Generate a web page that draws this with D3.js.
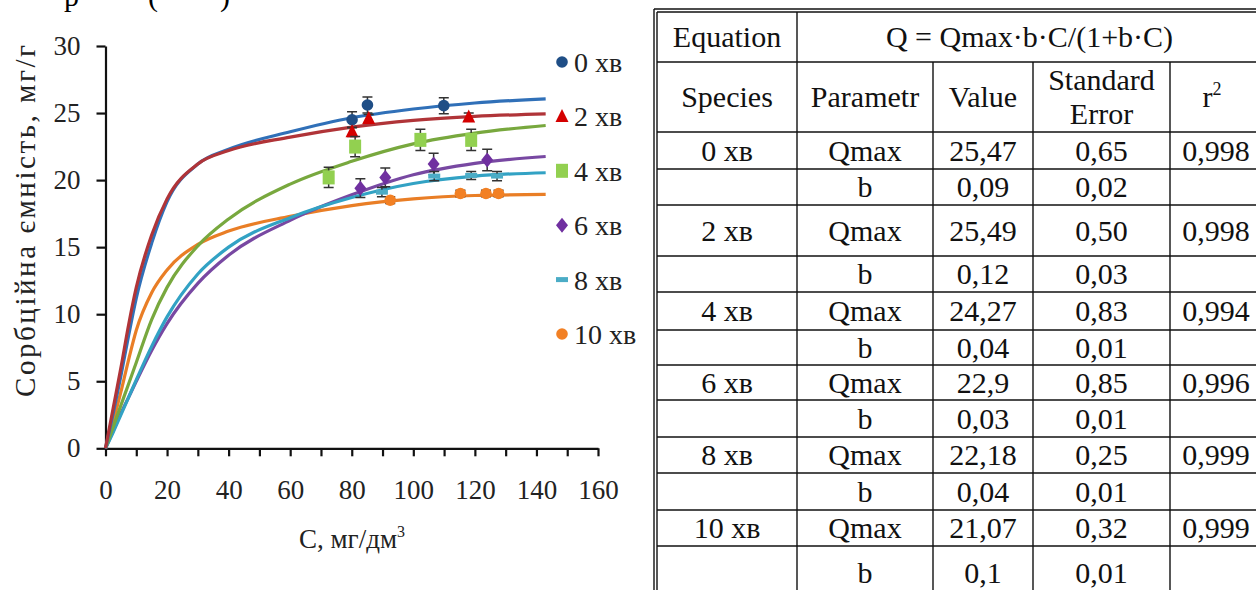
<!DOCTYPE html>
<html>
<head>
<meta charset="utf-8">
<script src="https://cdn.jsdelivr.net/npm/d3@7"></script>
<style>
  body { margin: 0; background: #fff; }
  svg text { font-family: "Liberation Serif", "Times New Roman", serif; }
</style>
</head>
<body>
<svg id="chart" width="1256" height="590"></svg>
<script>
// sorption isotherms + Langmuir parameters table

var serif = "'Liberation Serif', 'Times New Roman', serif";

var seriesNames = ["0 хв", "2 хв", "4 хв", "6 хв", "8 хв", "10 хв"];
var lineColors = ["#3070b8", "#b03438", "#78a83e", "#7848a2", "#32a2c4", "#e97e26"];
var markerColors = ["#1f4e86", "#d40000", "#92d050", "#7030a0", "#4bacc6", "#f28024"];
var markerShapes = ["circle", "triangle", "square", "diamond", "dash", "circle"];

// points along the fitted curves
var curveC = [0, 2.5, 5, 7.5, 10, 15, 20, 30, 40, 60, 80, 100, 120, 143];
var curveQ0 = [0, 2.6, 5.4, 8.4, 11.2, 15.3, 18.4, 21.2, 22.3, 23.6, 24.65, 25.3, 25.75, 26.06];
var curveQ2 = [0, 3.0, 6.0, 9.2, 12.0, 15.9, 18.6, 21.2, 22.2, 23.2, 23.95, 24.45, 24.75, 24.94];
var curveQ4 = [0, 1.6, 3.2, 4.8, 6.4, 9.6, 12.0, 15.1, 17.1, 19.7, 21.4, 22.7, 23.5, 24.07];
var curveQ6 = [0, 1.3, 2.6, 3.8, 5.0, 7.3, 9.3, 12.3, 14.4, 17.0, 18.9, 20.4, 21.25, 21.76];
var curveQ8 = [0, 1.2, 2.5, 3.8, 5.1, 7.6, 9.8, 13.0, 15.0, 17.2, 18.7, 19.75, 20.3, 20.55];
var curveQ10 = [0, 2.0, 4.2, 6.6, 8.8, 11.6, 13.3, 15.2, 16.2, 17.3, 18.1, 18.6, 18.85, 18.93];
var curveQ = [curveQ0, curveQ2, curveQ4, curveQ6, curveQ8, curveQ10];

// measured points with error bars
var pointC0 = [80.1, 85.1, 109.9],         pointQ0 = [24.5, 25.6, 25.55],        pointErr0 = [0.6, 0.6, 0.6];
var pointC2 = [80.1, 85.5, 118],           pointQ2 = [23.6, 24.6, 24.7],         pointErr2 = [0.35, 0.3, 0.3];
var pointC4 = [72.5, 81.1, 102.3, 118.8],  pointQ4 = [20.2, 22.5, 23.0, 23.0],   pointErr4 = [0.75, 0.75, 0.8, 0.8];
var pointC6 = [82.8, 90.9, 106.6, 124],    pointQ6 = [19.4, 20.2, 21.2, 21.5],   pointErr6 = [0.7, 0.7, 0.8, 0.8];
var pointC8 = [89.8, 106.8, 118.8, 127.2], pointQ8 = [19.1, 20.3, 20.35, 20.3],  pointErr8 = [0.35, 0.35, 0.3, 0.35];
var pointC10 = [92.5, 115.3, 123.6, 127.7], pointQ10 = [18.5, 19.0, 19.0, 19.0], pointErr10 = [0.25, 0.25, 0.25, 0.25];
var pointC = [pointC0, pointC2, pointC4, pointC6, pointC8, pointC10];
var pointQ = [pointQ0, pointQ2, pointQ4, pointQ6, pointQ8, pointQ10];
var pointErr = [pointErr0, pointErr2, pointErr4, pointErr6, pointErr8, pointErr10];

var xTicks = [0, 10, 20, 30, 40, 50, 60, 70, 80, 90, 100, 110, 120, 130, 140, 150, 160];
var yTicks = [0, 5, 10, 15, 20, 25, 30];

// table contents
var tableSpecies = ["0 хв", "2 хв", "4 хв", "6 хв", "8 хв", "10 хв"];
var tableQmax = ["25,47", "25,49", "24,27", "22,9", "22,18", "21,07"];
var tableQmaxErr = ["0,65", "0,50", "0,83", "0,85", "0,25", "0,32"];
var tableB = ["0,09", "0,12", "0,04", "0,03", "0,04", "0,1"];
var tableBErr = ["0,02", "0,03", "0,01", "0,01", "0,01", "0,01"];
var tableR2 = ["0,998", "0,998", "0,994", "0,996", "0,999", "0,999"];

var svg = d3.select("#chart");

var x = d3.scaleLinear().domain([0, 160]).range([105.5, 598]);
var y = d3.scaleLinear().domain([0, 30]).range([448.3, 46]);

// cut-off line of text at the very top of the page
svg.append("text").attr("x", 64).attr("y", 6).attr("font-size", 30).attr("font-family", serif).text("р");
svg.append("text").attr("x", 148).attr("y", 6).attr("font-size", 30).attr("font-family", serif).text("(");
svg.append("text").attr("x", 220).attr("y", 6).attr("font-size", 30).attr("font-family", serif).text(")");

// axes
var xAxis = svg.append("g")
    .attr("transform", "translate(0," + y(0) + ")")
    .call(d3.axisBottom(x).tickValues(xTicks).tickSize(8).tickSizeOuter(0).tickPadding(24)
        .tickFormat(function(d){ return d % 20 == 0 ? d : ""; }));
var yAxis = svg.append("g")
    .attr("transform", "translate(" + x(0) + ",0)")
    .call(d3.axisLeft(y).tickValues(yTicks).tickSize(9).tickSizeOuter(0).tickPadding(16));

[xAxis, yAxis].forEach(function(g){
    g.attr("font-family", serif);
    g.selectAll("path, line").attr("stroke", "#111").attr("stroke-width", 2.2);
    g.selectAll("text").attr("font-size", 27).attr("fill", "#222").attr("font-family", serif);
});

svg.append("text")
    .attr("x", 352).attr("y", 548)
    .attr("text-anchor", "middle")
    .attr("font-size", 27).attr("fill", "#222").attr("font-family", serif)
    .html("C, мг/дм<tspan font-size='16' dy='-11'>3</tspan>");

svg.append("text")
    .attr("transform", "translate(35,221) rotate(-90)")
    .attr("text-anchor", "middle")
    .attr("font-size", 29).attr("fill", "#222").attr("font-family", serif)
    .attr("textLength", 352).attr("lengthAdjust", "spacing")
    .text("Сорбційна ємність, мг/г");

// curves
var line = d3.line()
    .x(function(d){ return x(d[0]); })
    .y(function(d){ return y(d[1]); })
    .curve(d3.curveMonotoneX);

var drawOrder = [5, 3, 4, 2, 0, 1];
drawOrder.forEach(function(s){
    var pts = curveC.map(function(c, k){ return [c, curveQ[s][k]]; });
    svg.append("path")
        .attr("d", line(pts))
        .attr("fill", "none")
        .attr("stroke", lineColors[s])
        .attr("stroke-width", 3.2);
});

function drawMarker(g, shape, color, cx, cy){
    if (shape == "circle") {
        g.append("circle").attr("cx", cx).attr("cy", cy).attr("r", 5.8).attr("fill", color);
    } else if (shape == "triangle") {
        g.append("path").attr("d", "M" + cx + "," + (cy - 7.5) + "L" + (cx + 6.5) + "," + (cy + 5.5)
            + "L" + (cx - 6.5) + "," + (cy + 5.5) + "Z").attr("fill", color);
    } else if (shape == "square") {
        g.append("rect").attr("x", cx - 6).attr("y", cy - 7).attr("width", 12).attr("height", 14).attr("fill", color);
    } else if (shape == "diamond") {
        g.append("path").attr("d", "M" + cx + "," + (cy - 7.5) + "L" + (cx + 6) + "," + cy
            + "L" + cx + "," + (cy + 7.5) + "L" + (cx - 6) + "," + cy + "Z").attr("fill", color);
    } else if (shape == "dash") {
        g.append("rect").attr("x", cx - 6).attr("y", cy - 2.5).attr("width", 12).attr("height", 5).attr("fill", color);
    }
}

// error bars and markers
var marks = svg.append("g");
for (var s = 0; s < seriesNames.length; s++) {
    for (var k = 0; k < pointC[s].length; k++) {
        var px = x(pointC[s][k]);
        var barTop = y(pointQ[s][k] + pointErr[s][k]);
        var barBot = y(pointQ[s][k] - pointErr[s][k]);
        marks.append("path")
            .attr("d", "M" + px + "," + barTop + "V" + barBot
                + "M" + (px - 5) + "," + barTop + "H" + (px + 5)
                + "M" + (px - 5) + "," + barBot + "H" + (px + 5))
            .attr("stroke", "#333").attr("stroke-width", 1.5).attr("fill", "none");
        drawMarker(marks, markerShapes[s], markerColors[s], px, y(pointQ[s][k]));
    }
}

// legend
var legend = svg.append("g");
seriesNames.forEach(function(name, i){
    var ly = 62 + i * 54.4;
    drawMarker(legend, markerShapes[i], markerColors[i], 562, ly);
    legend.append("text")
        .attr("x", 574).attr("y", ly + 10)
        .attr("font-size", 28).attr("fill", "#222").attr("font-family", serif)
        .text(name);
});

// table
var colX = [657, 797, 933, 1033, 1170, 1262];
var rowY = [12, 62, 132, 169, 205, 256, 292, 330, 365, 400, 437, 473, 510, 546, 600];
var table = svg.append("g").attr("font-size", 30).attr("fill", "#111").attr("font-family", serif);

function cellText(txt, x0, x1, y0, y1){
    return table.append("text")
        .attr("x", (x0 + x1) / 2).attr("y", (y0 + y1) / 2 + 10)
        .attr("text-anchor", "middle")
        .text(txt);
}

// grid lines
var grid = svg.append("g").attr("stroke", "#111").attr("stroke-width", 1.4);
rowY.forEach(function(ry){
    grid.append("line").attr("x1", colX[0]).attr("x2", 1256).attr("y1", ry).attr("y2", ry);
});
grid.append("line").attr("x1", colX[0] - 3).attr("x2", 1256).attr("y1", rowY[0] - 3).attr("y2", rowY[0] - 3);
grid.append("line").attr("x1", colX[0] - 3).attr("x2", colX[0] - 3).attr("y1", rowY[0] - 3).attr("y2", 590);
grid.append("line").attr("x1", colX[0]).attr("x2", colX[0]).attr("y1", rowY[0]).attr("y2", 590);
grid.append("line").attr("x1", colX[1]).attr("x2", colX[1]).attr("y1", rowY[0]).attr("y2", 590);
for (var c = 2; c < 5; c++) {
    grid.append("line").attr("x1", colX[c]).attr("x2", colX[c]).attr("y1", rowY[1]).attr("y2", 590);
}

cellText("Equation", colX[0], colX[1], rowY[0], rowY[1]);
cellText("Q = Qmax·b·C/(1+b·C)", colX[1], colX[5], rowY[0], rowY[1]);
cellText("Species", colX[0], colX[1], rowY[1], rowY[2]);
cellText("Parametr", colX[1], colX[2], rowY[1], rowY[2]);
cellText("Value", colX[2], colX[3], rowY[1], rowY[2]);
cellText("Standard", colX[3], colX[4], rowY[1], rowY[1] + 36);
cellText("Error", colX[3], colX[4], rowY[1] + 34, rowY[2]);
cellText("r", colX[4] - 8, colX[5], rowY[1], rowY[2])
    .append("tspan").attr("font-size", 18).attr("dy", -12).text("2");

for (var i = 0; i < tableSpecies.length; i++) {
    var r0 = rowY[2 + i * 2], r1 = rowY[3 + i * 2], r2 = rowY[4 + i * 2];
    cellText(tableSpecies[i], colX[0], colX[1], r0, r1);
    cellText("Qmax", colX[1], colX[2], r0, r1);
    cellText(tableQmax[i], colX[2], colX[3], r0, r1);
    cellText(tableQmaxErr[i], colX[3], colX[4], r0, r1);
    cellText(tableR2[i], colX[4], colX[5], r0, r1);
    cellText("b", colX[1], colX[2], r1, r2);
    cellText(tableB[i], colX[2], colX[3], r1, r2);
    cellText(tableBErr[i], colX[3], colX[4], r1, r2);
}
</script>
</body>
</html>
